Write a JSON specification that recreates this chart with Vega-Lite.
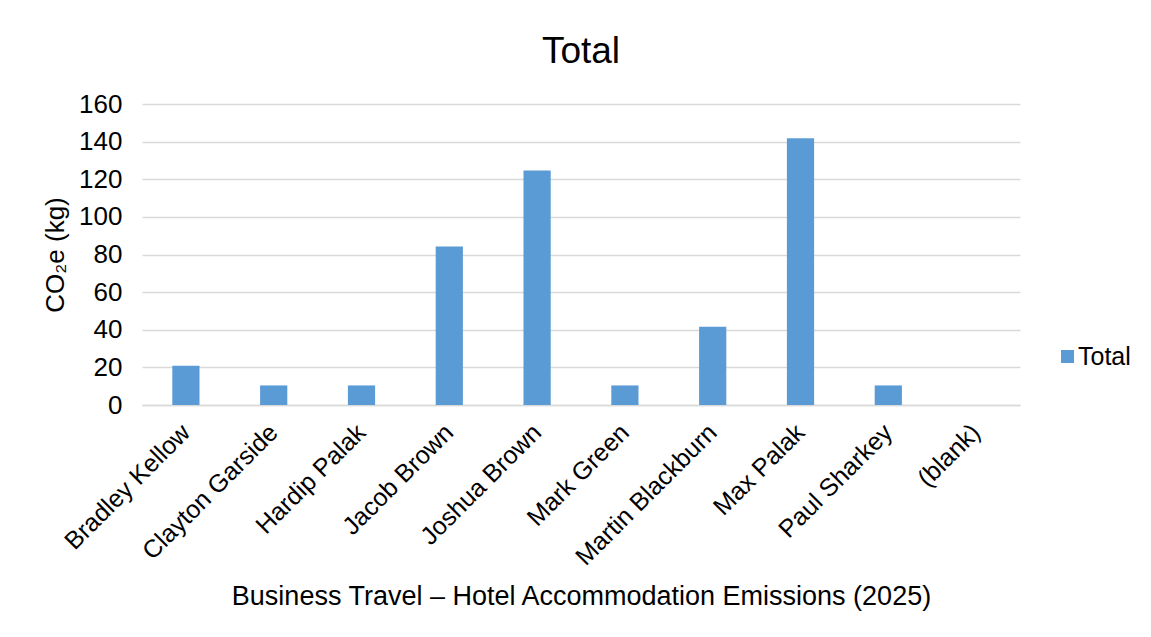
{
  "$schema": "https://vega.github.io/schema/vega-lite/v6.json",
  "autosize": {"type": "none"},
  "width": 878,
  "height": 301,
  "padding": {"left": 142, "top": 104, "right": 131, "bottom": 232},
  "background": "white",
  "title": {
    "text": "Total",
    "fontSize": 37,
    "font": "Liberation Sans",
    "fontWeight": "normal",
    "color": "#000000",
    "anchor": "middle",
    "offset": 20
  },
  "data": {
    "values": [
      {"name": "Bradley Kellow", "total": 20.8, "series": "Total"},
      {"name": "Clayton Garside", "total": 10.4, "series": "Total"},
      {"name": "Hardip Palak", "total": 10.4, "series": "Total"},
      {"name": "Jacob Brown", "total": 84.2, "series": "Total"},
      {"name": "Joshua Brown", "total": 124.7, "series": "Total"},
      {"name": "Mark Green", "total": 10.4, "series": "Total"},
      {"name": "Martin Blackburn", "total": 41.6, "series": "Total"},
      {"name": "Max Palak", "total": 141.8, "series": "Total"},
      {"name": "Paul Sharkey", "total": 10.4, "series": "Total"},
      {"name": "(blank)", "total": null, "series": "Total"}
    ]
  },
  "mark": {"type": "bar", "color": "#5B9BD5"},
  "encoding": {
    "x": {
      "field": "name",
      "type": "nominal",
      "sort": null,
      "scale": {
        "domain": ["Bradley Kellow", "Clayton Garside", "Hardip Palak", "Jacob Brown", "Joshua Brown", "Mark Green", "Martin Blackburn", "Max Palak", "Paul Sharkey", "(blank)"],
        "paddingInner": 0.69,
        "paddingOuter": 0.345
      },
      "axis": {
        "title": "Business Travel – Hotel Accommodation Emissions (2025)",
        "titleFont": "Liberation Sans",
        "titleFontSize": 27,
        "titleFontWeight": "normal",
        "titleColor": "#000000",
        "titleY": 199,
        "titleBaseline": "alphabetic",
        "labelAngle": -45,
        "labelAlign": "right",
        "labelBaseline": "middle",
        "labelFont": "Liberation Sans",
        "labelFontSize": 25,
        "labelColor": "#000000",
        "labelPadding": 23,
        "labelLimit": 400,
        "ticks": false,
        "domainColor": "#D9D9D9",
        "domainWidth": 1.5,
        "labelOverlap": false
      }
    },
    "y": {
      "field": "total",
      "type": "quantitative",
      "scale": {"domain": [0, 160], "nice": false},
      "axis": {
        "title": "CO₂e (kg)",
        "titleFont": "Liberation Sans",
        "titleFontSize": 26,
        "titleFontWeight": "normal",
        "titleColor": "#000000",
        "titlePadding": 10,
        "values": [0, 20, 40, 60, 80, 100, 120, 140, 160],
        "labelFont": "Liberation Sans",
        "labelFontSize": 26,
        "labelColor": "#000000",
        "labelPadding": 20,
        "ticks": false,
        "domain": false,
        "grid": true,
        "gridColor": "#D9D9D9",
        "gridWidth": 1.5
      }
    },
    "color": {
      "field": "series",
      "type": "nominal",
      "scale": {"range": ["#5B9BD5"]},
      "legend": {
        "title": null,
        "orient": "none",
        "legendX": 913,
        "legendY": 240,
        "symbolType": "square",
        "symbolSize": 169,
        "symbolStrokeWidth": 0,
        "labelFont": "Liberation Sans",
        "labelFontSize": 25,
        "labelColor": "#000000",
        "labelOffset": -2
      }
    }
  },
  "config": {
    "view": {"stroke": null}
  }
}
